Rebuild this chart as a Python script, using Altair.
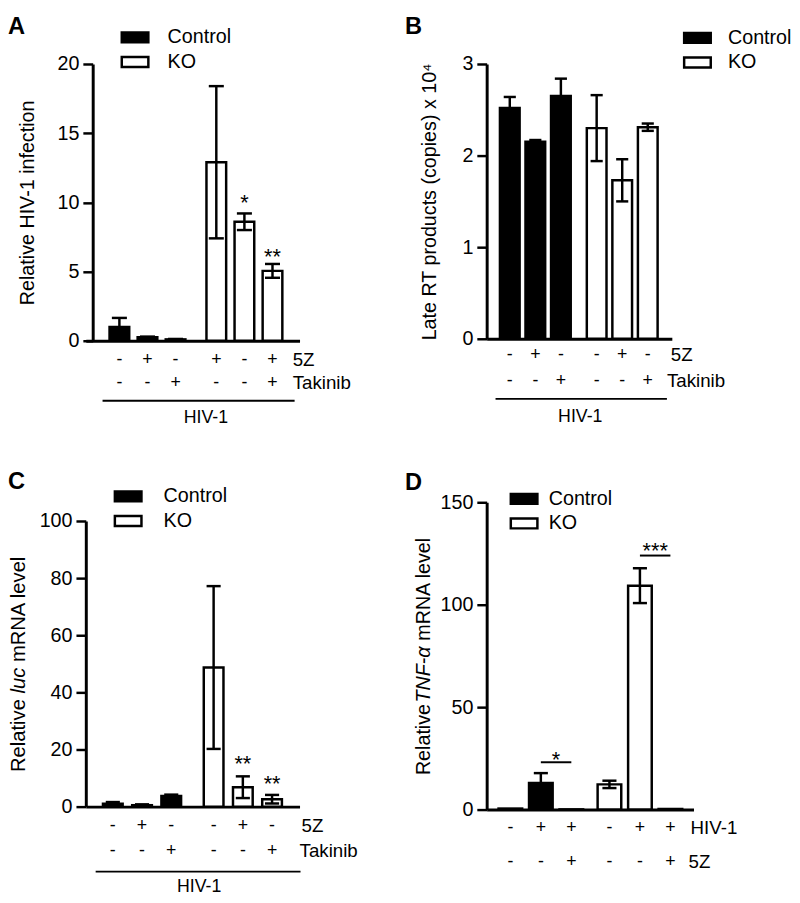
import altair as alt
import pandas as pd

FONT = "Liberation Sans"

# ---------------- data ----------------
GROUPS = ["Control", "Control", "Control", "KO", "KO", "KO"]
LEGEND_ORDER = ["Control", "KO"]
FILLS = ["black", "white"]

# Panel A
A_VALUE = [1.0, 0.25, 0.10, 12.9, 8.6, 5.05]
A_ERR = [0.65, 0.05, 0.03, 5.5, 0.6, 0.5]
A_ROW1 = ["-", "+", "-", "+", "-", "+"]
A_ROW2 = ["-", "-", "+", "-", "-", "+"]
A_ROW_NAMES = ["5Z", "Takinib"]
A_STARS = ["*", "**"]
A_STAR_BARS = [4, 5]
A_STAR_Y = [9.43, 5.55]
A_TICKS = [0, 5, 10, 15, 20]
A_TITLE = "Relative HIV-1 infection"

# Panel B
B_VALUE = [2.52, 2.15, 2.65, 2.30, 1.73, 2.31]
B_ERR = [0.12, 0.02, 0.19, 0.36, 0.23, 0.04]
B_ROW1 = ["-", "+", "-", "-", "+", "-"]
B_ROW2 = ["-", "-", "+", "-", "-", "+"]
B_ROW_NAMES = ["5Z", "Takinib"]
B_TICKS = [0, 1, 2, 3]
B_TITLE = "Late RT products (copies) x 10\u2074"

# Panel C
C_VALUE = [1.0, 0.5, 3.7, 48.7, 6.8, 2.6]
C_ERR = [0.6, 0.3, 0.5, 28.5, 3.8, 1.5]
C_ROW1 = ["-", "+", "-", "-", "+", "-"]
C_ROW2 = ["-", "-", "+", "-", "-", "+"]
C_ROW_NAMES = ["5Z", "Takinib"]
C_STARS = ["**", "**"]
C_STAR_BARS = [4, 5]
C_STAR_Y = [12.6, 5.3]
C_TICKS = [0, 20, 40, 60, 80, 100]
C_TITLE = [("Relative", "normal"), ("luc", "italic"), ("mRNA level", "normal")]

# Panel D
D_VALUE = [0.5, 13.0, 0.1, 12.3, 109.3, 0.3]
D_ERR = [0.0, 4.8, 0.0, 1.8, 8.5, 0.0]
D_ROW1 = ["-", "+", "+", "-", "+", "+"]
D_ROW2 = ["-", "-", "+", "-", "-", "+"]
D_ROW_NAMES = ["HIV-1", "5Z"]
D_SIG_FROM = [1, 4]
D_SIG_TO = [2, 5]
D_SIG_LINE_Y = [23.1, 124.0]
D_STARS = ["*", "***"]
D_STAR_Y = [20.7, 122.6]
D_TICKS = [0, 50, 100, 150]
D_TITLE = [("Relative", "normal"), ("TNF-\u03b1", "italic"), ("mRNA level", "normal")]

# ---------------- helpers ----------------
ARIAL = {"R": .722, "e": .556, "l": .222, "a": .556, "t": .278, "i": .222, "v": .5,
         " ": .278, "u": .556, "c": .5, "m": .833, "N": .722, "A": .667, "T": .611,
         "F": .611, "-": .333, "\u03b1": .578}


def text_width(s, fs):
    return sum(ARIAL.get(ch, .556) for ch in s) * fs


ONE = pd.DataFrame({"k": [0]})
SYMBOL = "M-1,-0.37H1V0.37H-1Z"


def const_text(text, x, y, size=20, align="left", baseline="middle",
               weight="normal", style="normal", angle=0):
    return alt.Chart(ONE).mark_text(
        text=text, align=align, baseline=baseline, font=FONT, fontSize=size,
        fontWeight=weight, fontStyle=style, angle=angle, color="black"
    ).encode(x=alt.value(x), y=alt.value(y))


def const_rule(x1, x2, y):
    return alt.Chart(ONE).mark_rule(color="black", strokeWidth=2).encode(
        x=alt.value(x1), x2=alt.value(x2), y=alt.value(y))


def rotated_title(parts, x, center, fs, gaps):
    widths = [text_width(t, fs) for t, _ in parts]
    total = sum(widths) + sum(gaps)
    y = center + total / 2
    out = []
    for i, (t, style) in enumerate(parts):
        out.append(const_text(t, x, y, size=fs, baseline="alphabetic",
                              style=style, angle=270))
        y -= widths[i]
        if i < len(gaps):
            y -= gaps[i]
    return out


def build_panel(letter, values, errors, row1, row2, row_names, ticks, g,
                title=None, title_parts=None, stars=None, sig=None):
    u = g["unit"]
    pos = [i + (g["gap"] if i >= 3 else 0.0) for i in range(6)]
    xs = alt.Scale(domain=[-g["first"] / u, (g["width"] - g["first"]) / u],
                   nice=False, zero=False)
    ys = alt.Scale(domain=[ticks[0], ticks[-1]], nice=False, zero=False)
    xaxis = alt.Axis(title=None, labels=False, ticks=False, grid=False,
                     domainColor="black", domainWidth=3)
    ykw = dict(values=ticks, grid=False, domainColor="black", domainWidth=3,
               tickColor="black", tickWidth=2.5, tickSize=10, labelFont=FONT,
               labelFontSize=20, labelColor="black", labelPadding=4,
               offset=g.get("yoffset", 0))
    if title:
        ykw.update(title=title, titleFont=FONT, titleFontSize=20,
                   titleFontWeight="normal", titleColor="black",
                   titlePadding=g["title_pad"])
    else:
        ykw["title"] = None
    yaxis = alt.Axis(**ykw)

    def X(f):
        return alt.X(f, type="quantitative", scale=xs, axis=xaxis)

    def Y(f):
        return alt.Y(f, type="quantitative", scale=ys, axis=yaxis)

    df = pd.DataFrame({"pos": pos, "group": GROUPS, "value": values,
                       "err": errors, "s1": row1, "s2": row2})
    df["lo"] = df["value"] - df["err"]
    df["hi"] = df["value"] + df["err"]
    e = df[df["err"] > 0]
    h = g["cap"] / u
    caps = pd.concat([
        pd.DataFrame({"x1": e["pos"] - h, "x2": e["pos"] + h, "y": e["hi"]}),
        pd.DataFrame({"x1": e["pos"] - h, "x2": e["pos"] + h, "y": e["lo"]}),
    ])

    legend = alt.Legend(
        orient="none", legendX=g["lx"], legendY=g["ly"], title=None,
        symbolType=SYMBOL, symbolSize=729, symbolStrokeColor="black",
        symbolStrokeWidth=2.5, symbolOpacity=1, labelFont=FONT,
        labelFontSize=20, labelColor="black", labelOffset=g["loff"],
        rowPadding=0, padding=0)

    layers = [
        alt.Chart(df).mark_bar(orient="vertical", size=g["bar"], stroke="black",
                               strokeWidth=2.5, opacity=1).encode(
            x=X("pos"),
            y=alt.Y("value", type="quantitative", scale=ys, axis=yaxis, stack=None),
            fill=alt.Fill("group:N", scale=alt.Scale(domain=LEGEND_ORDER, range=FILLS),
                          legend=legend)),
        alt.Chart(e).mark_rule(color="black", strokeWidth=2.5).encode(
            x=X("pos"), y=Y("lo"), y2="hi"),
        alt.Chart(caps).mark_rule(color="black", strokeWidth=2.5).encode(
            x=X("x1"), x2="x2", y=Y("y")),
        alt.Chart(df).mark_text(font=FONT, fontSize=18, baseline="middle",
                                color="black").encode(
            x=X("pos"), y=alt.value(g["row1"]), text="s1:N"),
        alt.Chart(df).mark_text(font=FONT, fontSize=18, baseline="middle",
                                color="black").encode(
            x=X("pos"), y=alt.value(g["row2"]), text="s2:N"),
        const_text(row_names[0], g["name1_x"], g["row1"], size=19),
        const_text(row_names[1], g["name2_x"], g["row2"], size=19),
        const_text(letter, g["letter_x"], g["letter_y"], size=24,
                   weight="bold", baseline="top"),
    ]
    if stars:
        labels, bars, ys_ = stars
        sdf = pd.DataFrame({"pos": [pos[b] for b in bars], "sy": ys_, "star": labels})
        layers.append(alt.Chart(sdf).mark_text(
            font=FONT, fontSize=22, baseline="alphabetic", color="black").encode(
            x=X("pos"), y=Y("sy"), text="star:N"))
    if sig:
        frm, to, line_y, labels, label_y = sig
        ldf = pd.DataFrame({"x1": [pos[i] for i in frm], "x2": [pos[i] for i in to],
                            "y": line_y})
        tdf = pd.DataFrame({"pos": [(pos[a] + pos[b]) / 2 for a, b in zip(frm, to)],
                            "sy": label_y, "star": labels})
        layers.append(alt.Chart(ldf).mark_rule(color="black", strokeWidth=2).encode(
            x=X("x1"), x2="x2", y=Y("y")))
        layers.append(alt.Chart(tdf).mark_text(
            font=FONT, fontSize=22, baseline="alphabetic", color="black").encode(
            x=X("pos"), y=Y("sy"), text="star:N"))
    if "line_y" in g:
        layers.append(const_rule(g["line_x1"], g["line_x2"], g["line_y"]))
        layers.append(const_text("HIV-1", g["hiv_x"], g["hiv_y"], size=18, align="center"))
    if title_parts:
        layers += rotated_title(title_parts, g["title_x"], g["height"] / 2,
                                g["title_fs"], g["title_gaps"])
    return alt.layer(*layers).properties(width=g["width"], height=g["height"])


GA = dict(width=217, height=281, unit=29.9, first=30.5, gap=0.45, bar=20, cap=8,
          yoffset=-7, title_pad=20, lx=35, ly=-42, loff=18,
          row1=301, row2=324, name1_x=210, name2_x=210,
          letter_x=-79, letter_y=-49.5,
          line_x1=17, line_x2=212, line_y=342, hiv_x=122, hiv_y=360)
GB = dict(width=188, height=279, unit=27.4, first=19.5, gap=0.4, bar=20, cap=6.5,
          title_pad=23, lx=199, ly=-41.5, loff=16,
          row1=296, row2=322, name1_x=187, name2_x=183,
          letter_x=-83, letter_y=-49.5,
          line_x1=9, line_x2=183, line_y=340, hiv_x=95, hiv_y=358)
GC = dict(width=217, height=290, unit=31.1, first=23.5, gap=0.45, bar=20, cap=7.5,
          lx=28, ly=-40, loff=21,
          row1=310, row2=335, name1_x=219, name2_x=217,
          letter_x=-79, letter_y=-51,
          line_x1=10, line_x2=218, line_y=356, hiv_x=115, hiv_y=372,
          title_x=-61.5, title_fs=20.5, title_gaps=[5.7, 5.7])
GD = dict(width=210, height=312, unit=32.5, first=20, gap=0.25, bar=24, cap=7.5,
          lx=23, ly=-18.5, loff=10,
          row1=331, row2=365, name1_x=207, name2_x=205,
          letter_x=-83, letter_y=-31,
          title_x=-58, title_fs=20, title_gaps=[1.5, 5.6])

pA = build_panel("A", A_VALUE, A_ERR, A_ROW1, A_ROW2, A_ROW_NAMES, A_TICKS, GA,
                 title=A_TITLE, stars=(A_STARS, A_STAR_BARS, A_STAR_Y))
pB = build_panel("B", B_VALUE, B_ERR, B_ROW1, B_ROW2, B_ROW_NAMES, B_TICKS, GB,
                 title=B_TITLE)
pC = build_panel("C", C_VALUE, C_ERR, C_ROW1, C_ROW2, C_ROW_NAMES, C_TICKS, GC,
                 title_parts=C_TITLE, stars=(C_STARS, C_STAR_BARS, C_STAR_Y))
pD = build_panel("D", D_VALUE, D_ERR, D_ROW1, D_ROW2, D_ROW_NAMES, D_TICKS, GD,
                 title_parts=D_TITLE,
                 sig=(D_SIG_FROM, D_SIG_TO, D_SIG_LINE_Y, D_STARS, D_STAR_Y))

left = alt.vconcat(pA, pC, spacing=183, bounds="flush").resolve_scale(
    fill="independent").resolve_legend(fill="independent")
right = alt.vconcat(pB, pD, spacing=166, bounds="flush").resolve_scale(
    fill="independent").resolve_legend(fill="independent")
# nested flush columns report no width, so the column gap spans the left plot width too
chart = alt.hconcat(left, right, spacing=407, bounds="flush").resolve_scale(
    fill="independent").resolve_legend(fill="independent").properties(
    padding=0).configure(background="white").configure_view(strokeWidth=0)

chart.save("out.html", embed_options={"renderer": "svg", "actions": False})
